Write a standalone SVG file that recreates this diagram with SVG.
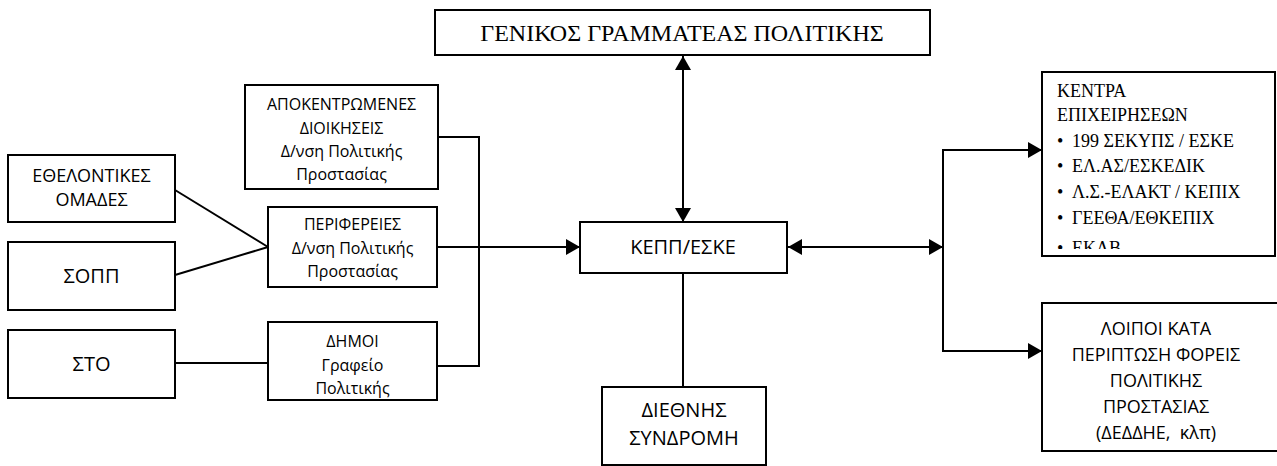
<svg xmlns="http://www.w3.org/2000/svg" width="1277" height="466" viewBox="0 0 1277 466">
<style>
.box{fill:#fff;stroke:#000;stroke-width:2}
.ln{fill:none;stroke:#000;stroke-width:2}
.s{font-family:"Open Sans","Noto Sans",sans-serif;fill:#000;text-anchor:middle}
.t{font-family:"Liberation Serif","DejaVu Serif","Times New Roman",serif;fill:#000}
</style>
<defs>
<marker id="ah" markerUnits="userSpaceOnUse" markerWidth="14" markerHeight="16" refX="14" refY="8" orient="auto-start-reverse">
<path d="M0,0 L14,8 L0,16 z" fill="#000"/>
</marker>
<clipPath id="kclip"><rect x="1042" y="72" width="233" height="177"/></clipPath>
</defs>
<g id="connectors">
<line class="ln" x1="683" y1="56" x2="683" y2="222" marker-start="url(#ah)" marker-end="url(#ah)"/>
<line class="ln" x1="683" y1="273" x2="683" y2="387"/>
<line class="ln" x1="788" y1="247" x2="943" y2="247" marker-start="url(#ah)" marker-end="url(#ah)"/>
<polyline class="ln" points="1042,150 943,150 943,351 1042,351"/>
<line class="ln" x1="943" y1="150" x2="1042" y2="150" marker-end="url(#ah)"/>
<line class="ln" x1="943" y1="351" x2="1042" y2="351" marker-end="url(#ah)"/>
<polyline class="ln" points="438,137 479,137 479,366 437,366"/>
<line class="ln" x1="437" y1="247" x2="580" y2="247" marker-end="url(#ah)"/>
<line class="ln" x1="175" y1="190" x2="268" y2="247"/>
<line class="ln" x1="175" y1="275" x2="268" y2="247"/>
<line class="ln" x1="175" y1="363" x2="268" y2="363"/>
</g>
<g id="gen-gram">
<rect class="box" x="435" y="10" width="495" height="45"/>
<text class="t" x="682" y="41" font-size="24" text-anchor="middle">ΓΕΝΙΚΟΣ ΓΡΑΜΜΑΤΕΑΣ ΠΟΛΙΤΙΚΗΣ</text>
</g>
<g id="kepp">
<rect class="box" x="580" y="222" width="207" height="51"/>
<text class="s" x="683" y="254" font-size="20">ΚΕΠΠ/ΕΣΚΕ</text>
</g>
<g id="diethnis">
<rect class="box" x="602" y="387" width="164" height="78"/>
<text class="s" x="684" y="417" font-size="20">ΔΙΕΘΝΗΣ</text>
<text class="s" x="684" y="445" font-size="20">ΣΥΝΔΡΟΜΗ</text>
</g>
<g id="apokentr">
<rect class="box" x="245" y="85" width="193" height="104"/>
<text class="s" font-size="16"><tspan x="341.5" y="110">ΑΠΟΚΕΝΤΡΩΜΕΝΕΣ</tspan><tspan x="341.5" y="134">ΔΙΟΙΚΗΣΕΙΣ</tspan><tspan x="341.5" y="157">Δ/νση Πολιτικής</tspan><tspan x="341.5" y="180">Προστασίας</tspan></text>
</g>
<g id="perifereies">
<rect class="box" x="268" y="207" width="169" height="80"/>
<text class="s" font-size="16"><tspan x="352.5" y="230">ΠΕΡΙΦΕΡΕΙΕΣ</tspan><tspan x="352.5" y="254">Δ/νση Πολιτικής</tspan><tspan x="352.5" y="277">Προστασίας</tspan></text>
</g>
<g id="dimoi">
<rect class="box" x="268" y="322" width="169" height="78"/>
<text class="s" font-size="16"><tspan x="352.5" y="347">ΔΗΜΟΙ</tspan><tspan x="352.5" y="371">Γραφείο</tspan><tspan x="352.5" y="394">Πολιτικής</tspan></text>
</g>
<g id="ethelont">
<rect class="box" x="8" y="155" width="167" height="67"/>
<text class="s" font-size="18"><tspan x="91.5" y="182">ΕΘΕΛΟΝΤΙΚΕΣ</tspan><tspan x="91.5" y="206">ΟΜΑΔΕΣ</tspan></text>
</g>
<g id="sopp">
<rect class="box" x="8" y="242" width="167" height="68"/>
<text class="s" x="91.5" y="283" font-size="20">ΣΟΠΠ</text>
</g>
<g id="sto">
<rect class="box" x="8" y="330" width="167" height="68"/>
<text class="s" x="91.5" y="371" font-size="20">ΣΤΟ</text>
</g>
<g id="kentra">
<rect class="box" x="1042" y="72" width="233" height="184"/>
<g clip-path="url(#kclip)" class="t" font-size="18">
<text x="1057" y="97">ΚΕΝΤΡΑ</text>
<text x="1057" y="121">ΕΠΙΧΕΙΡΗΣΕΩΝ</text>
<text x="1057" y="147">•</text><text x="1072" y="147">199 ΣΕΚΥΠΣ / ΕΣΚΕ</text>
<text x="1057" y="172">•</text><text x="1072" y="172">ΕΛ.ΑΣ/ΕΣΚΕΔΙΚ</text>
<text x="1057" y="198">•</text><text x="1072" y="198">Λ.Σ.-ΕΛΑΚΤ / ΚΕΠΙΧ</text>
<text x="1057" y="224">•</text><text x="1072" y="224">ΓΕΕΘΑ/ΕΘΚΕΠΙΧ</text>
<text x="1057" y="254">•</text><text x="1072" y="254">ΕΚΑΒ</text>
</g>
</g>
<g id="loipoi">
<rect class="box" x="1042" y="303" width="240" height="148"/>
<text class="s" font-size="18"><tspan x="1156" y="335">ΛΟΙΠΟΙ ΚΑΤΑ</tspan><tspan x="1156" y="361">ΠΕΡΙΠΤΩΣΗ ΦΟΡΕΙΣ</tspan><tspan x="1156" y="387">ΠΟΛΙΤΙΚΗΣ</tspan><tspan x="1156" y="413">ΠΡΟΣΤΑΣΙΑΣ</tspan><tspan x="1156" y="439" xml:space="preserve">(ΔΕΔΔΗΕ,  κλπ)</tspan></text>
</g>
</svg>
